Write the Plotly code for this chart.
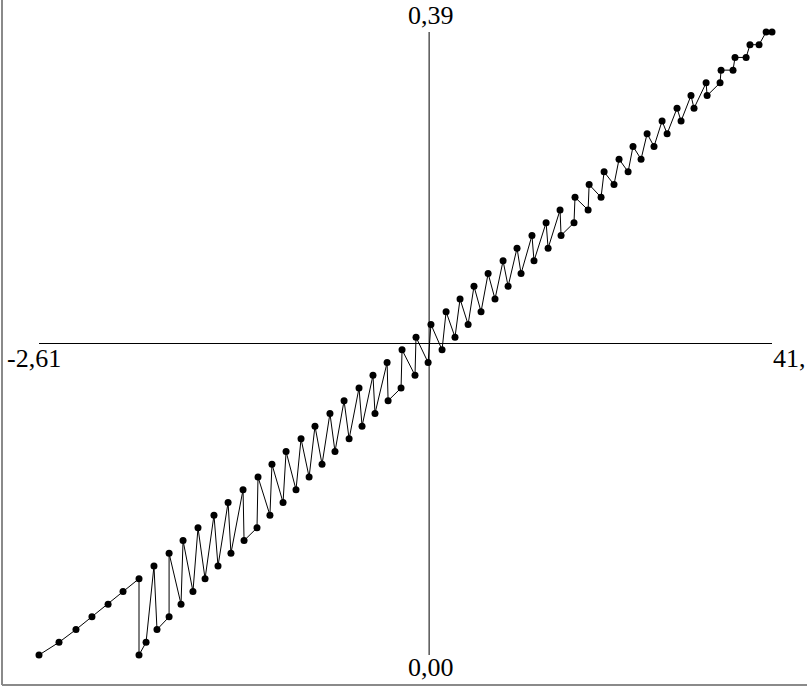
import plotly.graph_objects as go

# series
x_vals = [-2.61, -1.42, -0.41, 0.54, 1.50, 2.39, 3.34, 3.34, 3.76, 4.23,
          4.41, 5.13, 5.13, 5.84, 5.96, 6.55, 6.85, 7.27, 7.80, 8.04,
          8.64, 8.81, 9.53, 9.59, 10.36, 10.42, 11.13, 11.25, 11.91, 12.09,
          12.68, 12.98, 13.46, 13.81, 14.23, 14.70, 15.00, 15.54, 15.84, 16.43,
          16.61, 17.26, 17.38, 18.10, 18.16, 18.93, 18.99, 19.76, 19.82, 20.54,
          20.71, 21.37, 21.61, 22.14, 22.44, 22.92, 23.27, 23.69, 24.11, 24.52,
          25.00, 25.30, 25.83, 26.07, 26.72, 26.84, 27.56, 27.68, 28.39, 28.45,
          29.22, 29.28, 30.06, 30.12, 30.83, 31.01, 31.60, 31.90, 32.44, 32.73,
          33.21, 33.57, 33.98, 34.46, 34.76, 35.35, 35.59, 36.18, 36.36, 37.08,
          37.14, 37.91, 37.97, 38.68, 38.80, 39.46, 39.69, 40.23, 40.65, 41.00]
y_vals = [0.000, 0.008, 0.016, 0.024, 0.032, 0.040, 0.048, 0.000, 0.008, 0.056,
          0.016, 0.024, 0.064, 0.032, 0.072, 0.040, 0.080, 0.048, 0.088, 0.056,
          0.096, 0.064, 0.104, 0.072, 0.080, 0.112, 0.088, 0.120, 0.096, 0.128,
          0.104, 0.136, 0.112, 0.144, 0.120, 0.152, 0.128, 0.160, 0.136, 0.168,
          0.144, 0.176, 0.152, 0.184, 0.160, 0.168, 0.192, 0.176, 0.200, 0.184,
          0.208, 0.192, 0.216, 0.200, 0.224, 0.208, 0.232, 0.216, 0.240, 0.224,
          0.248, 0.232, 0.256, 0.240, 0.264, 0.248, 0.272, 0.256, 0.280, 0.264,
          0.272, 0.288, 0.280, 0.296, 0.288, 0.304, 0.296, 0.312, 0.304, 0.320,
          0.312, 0.328, 0.320, 0.336, 0.328, 0.344, 0.336, 0.352, 0.344, 0.360,
          0.352, 0.360, 0.368, 0.368, 0.376, 0.376, 0.384, 0.384, 0.392, 0.392]

x_min, x_max = -2.61, 41.0
y_min, y_max = 0.0, 0.392
x_cross = 20.6    # where the vertical axis is drawn
y_cross = 0.196   # where the horizontal axis is drawn
x_labels = ["-2,61", "41,"]
y_labels = ["0,00", "0,39"]

W, H = 807, 688
ML, MR, MT, MB = 39, 35, 32, 33
PW, PH = W - ML - MR, H - MT - MB


def px(x):
    return (x - ML) / PW


def py(y):
    return (H - MB - y) / PH


fig = go.Figure()
fig.add_trace(go.Scatter(
    x=x_vals, y=y_vals, mode="lines+markers",
    line=dict(color="black", width=1),
    marker=dict(color="black", size=7),
    cliponaxis=False, showlegend=False, hoverinfo="skip",
))

font = dict(family="Liberation Serif, Times New Roman, serif", size=26, color="black")

shapes = [
    dict(type="line", xref="x", yref="y", x0=x_min, x1=x_max, y0=y_cross, y1=y_cross,
         line=dict(color="black", width=1)),
    dict(type="line", xref="x", yref="y", x0=x_cross, x1=x_cross, y0=y_min, y1=y_max,
         line=dict(color="black", width=1)),
    # window frame (left and bottom edges)
    dict(type="line", xref="paper", yref="paper", x0=px(2), x1=px(2), y0=py(0), y1=py(685),
         line=dict(color="#8a8a8a", width=2)),
    dict(type="line", xref="paper", yref="paper", x0=px(2), x1=px(807), y0=py(685), y1=py(685),
         line=dict(color="#8a8a8a", width=2)),
]

annotations = [
    dict(text=x_labels[0], xref="paper", yref="paper", x=px(34), y=py(358),
         xanchor="center", yanchor="middle", showarrow=False, font=font),
    dict(text=x_labels[1], xref="paper", yref="paper", x=px(771), y=py(358),
         xanchor="left", yanchor="middle", showarrow=False, font=font),
    dict(text=y_labels[1], xref="paper", yref="paper", x=px(431), y=py(16),
         xanchor="center", yanchor="middle", showarrow=False, font=font),
    dict(text=y_labels[0], xref="paper", yref="paper", x=px(431), y=py(667),
         xanchor="center", yanchor="middle", showarrow=False, font=font),
]

fig.update_layout(
    width=W, height=H,
    margin=dict(l=ML, r=MR, t=MT, b=MB, pad=0),
    paper_bgcolor="white", plot_bgcolor="white",
    xaxis=dict(range=[x_min, x_max], visible=False, fixedrange=True),
    yaxis=dict(range=[y_min, y_max], visible=False, fixedrange=True),
    shapes=shapes, annotations=annotations,
)

# drop the default page margin so the figure sits at the window's corner
fig.write_html("out.html", config={"displayModeBar": False},
               post_script="document.body.style.margin='0';document.body.style.overflow='hidden';")
